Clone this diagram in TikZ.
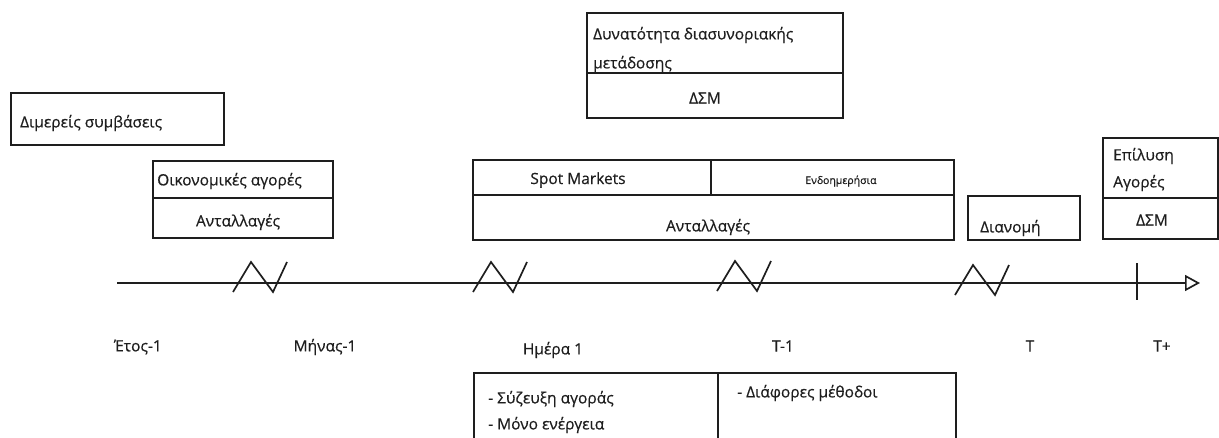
\documentclass[tikz,border=0pt]{standalone}
\usepackage{fontspec}
\setmainfont{Open Sans}
\newfontfamily\inkfont{Open Sans}[FakeBold=0.5]
\usetikzlibrary{arrows.meta}
\definecolor{ink}{HTML}{1E1E1E}
\tikzset{
  frame/.style={draw=ink, line width=1.7pt, inner sep=0pt, anchor=north west},
  rule/.style={draw=ink, line width=1.7pt},
  txt/.style={text=ink, inner sep=0pt, font=\inkfont\fontsize{15.5}{18}\selectfont},
  tiny/.style={text=ink, inner sep=0pt, font=\inkfont\fontsize{10.5}{12}\selectfont},
  axisline/.style={draw=ink, line width=1.7pt},
  brk/.pic={\draw[axisline] (0,9) -- (18,-21) -- (40,9) -- (54,-21);}
}
\newcommand{\boxat}[6]{% name, x1, y1, x2, y2, extra
  \node[frame, minimum width=#4pt-#2pt, minimum height=#5pt-#3pt, #6] (#1) at (#2,#3) {};}
\begin{document}
\begin{tikzpicture}[x=1pt,y=-1pt]
\useasboundingbox (0,0) rectangle (1219,437);

% boxes
\boxat{bil}{10}{92}{223}{144}{}
\boxat{fin}{152}{160}{332}{237}{}
\boxat{xb}{586}{12}{842}{117}{}
\boxat{spot}{472}{159}{953}{239}{}
\boxat{dist}{967}{195}{1079}{239}{}
\boxat{res}{1102}{137}{1217}{238}{}
\boxat{meth}{473}{372}{955}{447}{}

% dividers
\draw[rule] (fin.west |- 0,198) -- (fin.east |- 0,198);
\draw[rule] (xb.west |- 0,73) -- (xb.east |- 0,73);
\draw[rule] (spot.west |- 0,195) -- (spot.east |- 0,195);
\draw[rule] (spot.north -| 711,0) -- (711,195);
\draw[rule] (res.west |- 0,198) -- (res.east |- 0,198);
\draw[rule] (meth.north -| 718,0) -- (meth.south -| 718,0);

% box texts
\node[txt, anchor=west] (t1) at (20,123) {Διμερείς συμβάσεις};
\node[txt, anchor=west] (t2) at (157,181) {Οικονομικές αγορές};
\node[txt] (t3) at (238,222) {Ανταλλαγές};
\node[txt, anchor=west] (t4) at (593,35) {Δυνατότητα διασυνοριακής};
\node[txt, anchor=west] (t5) at (593,64) {μετάδοσης};
\node[txt] (t6) at (705,98) {ΔΣΜ};
\node[txt] (t7) at (578,180) {Spot Markets};
\node[tiny] (t8) at (841,181) {Ενδοημερήσια};
\node[txt] (t9) at (708,227) {Ανταλλαγές};
\node[txt, anchor=west] (t10) at (980,228) {Διανομή};
\node[txt, anchor=west] (t11) at (1113,156) {Επίλυση};
\node[txt, anchor=west] (t12) at (1113,183) {Αγορές};
\node[txt] (t13) at (1152,220) {ΔΣΜ};
\node[txt, anchor=west] (t14) at (488,399) {- Σύζευξη αγοράς};
\node[txt, anchor=west] (t15) at (488,425) {- Μόνο ενέργεια};
\node[txt, anchor=west] (t16) at (737,393) {- Διάφορες μέθοδοι};

% time axis
\coordinate (a0) at (117,283);
\coordinate (a1) at (1200,283);
\draw[axisline, -{Triangle[open, length=15pt, width=16pt, line width=1.7pt]}] (a0) -- (a1);
\pic at (233,283) {brk};
\pic at (473,283) {brk};
\pic at (717,282) {brk};
\pic at (955,286) {brk};
\draw[axisline] (1137,263) -- (1137,300);

% axis labels
\node[txt] (l1) at (138,347) {Έτος-1};
\node[txt] (l2) at (325,347) {Μήνας-1};
\node[txt] (l3) at (553,350) {Ημέρα 1};
\node[txt] (l4) at (783,346) {T-1};
\node[txt] (l5) at (1030,346) {T};
\node[txt] (l6) at (1162,346) {T+};
\end{tikzpicture}
\end{document}
